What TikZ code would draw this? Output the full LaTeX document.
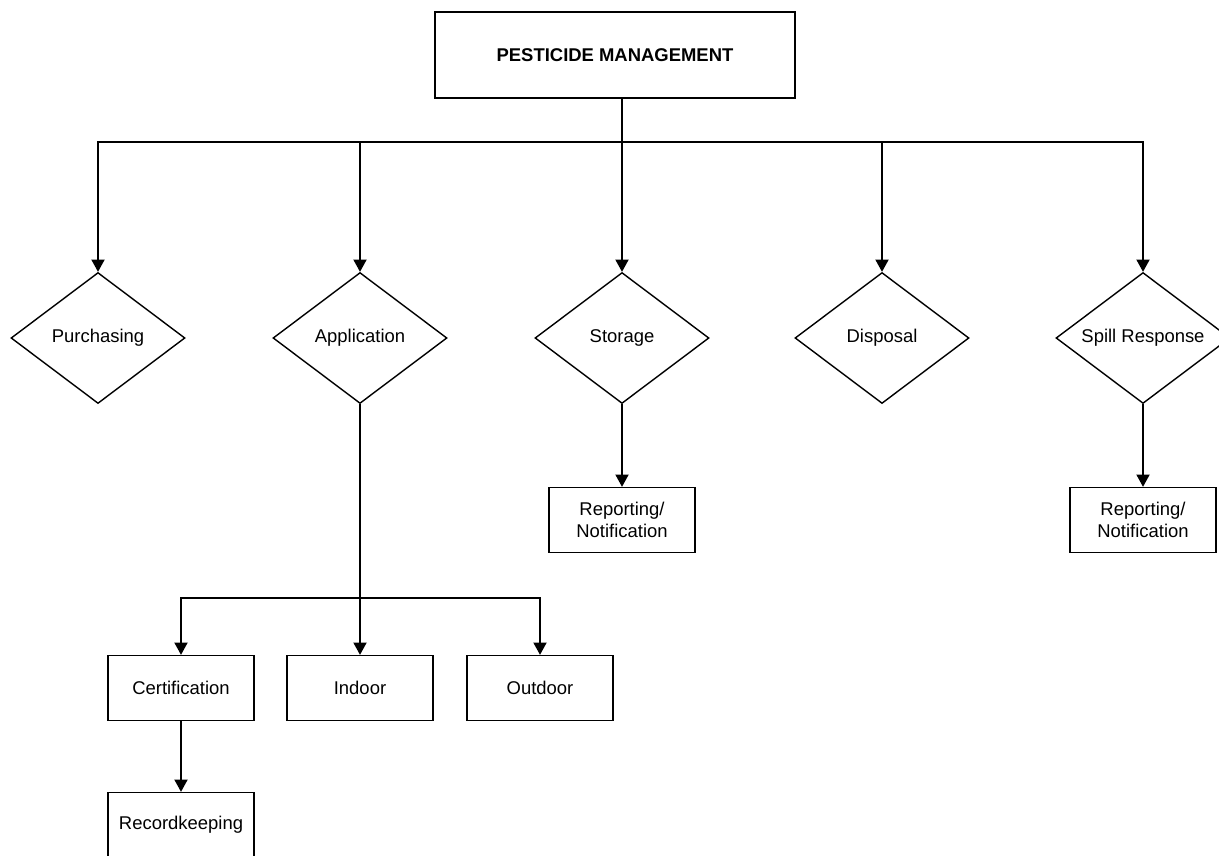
\documentclass[tikz,border=0pt]{standalone}
\usepackage{fontspec}
\setmainfont{Liberation Sans}
\usetikzlibrary{shapes.geometric,arrows.meta}

\begin{document}
\begin{tikzpicture}[x=0.02cm, y=-0.02cm, font=\fontsize{10.5}{12.5}\selectfont,
	line width=0.8pt,
	topbox/.style={draw, minimum width=7.2cm, minimum height=1.72cm, font=\fontsize{10.5}{12.5}\selectfont\bfseries},
	choice/.style={draw, diamond, shape aspect=1.33, inner sep=0pt, minimum width=3.48cm, minimum height=2.62cm},
	item/.style={draw, align=center, minimum width=2.92cm, minimum height=1.3cm},
	link/.style={-{Triangle[length=7pt,width=7.5pt]}}]
	%frame
	\useasboundingbox (0,0) rectangle (1219,855);
	\clip (0,0) rectangle (1219,855);
	%top
	\node[topbox] (top) at (615,55) {PESTICIDE MANAGEMENT};
	\coordinate (bus) at (622,142);
	\draw[line width=1.3pt] (bus |- top.south) -- (bus);
	%diamonds
	\foreach \x/\name/\txt in {98/pur/Purchasing, 360/app/Application, 622/sto/Storage, 882/dis/Disposal, 1143/spi/Spill Response}
	{
		\node[choice] (\name) at (\x,338) {\txt};
		\draw[link] (bus) -| (\name.north);
	}
	%reporting
	\node[item] (storep) at (622,520) {Reporting/\\Notification};
	\node[item] (spirep) at (1143,520) {Reporting/\\Notification};
	\draw[link] (sto.south) -- (storep.north);
	\draw[link] (spi.south) -- (spirep.north);
	%application branch
	\coordinate (appbus) at (360,598);
	\node[item] (cert) at (181,688) {Certification};
	\node[item] (indoor) at (360,688) {Indoor};
	\node[item] (outdoor) at (540,688) {Outdoor};
	\node[item] (record) at (181,825) {Recordkeeping};
	\draw (app.south) -- (appbus);
	\draw[link] (appbus) -| (cert.north);
	\draw[link] (appbus) -- (indoor.north);
	\draw[link] (appbus) -| (outdoor.north);
	\draw[link] (cert.south) -- (record.north);
\end{tikzpicture}
\end{document}
